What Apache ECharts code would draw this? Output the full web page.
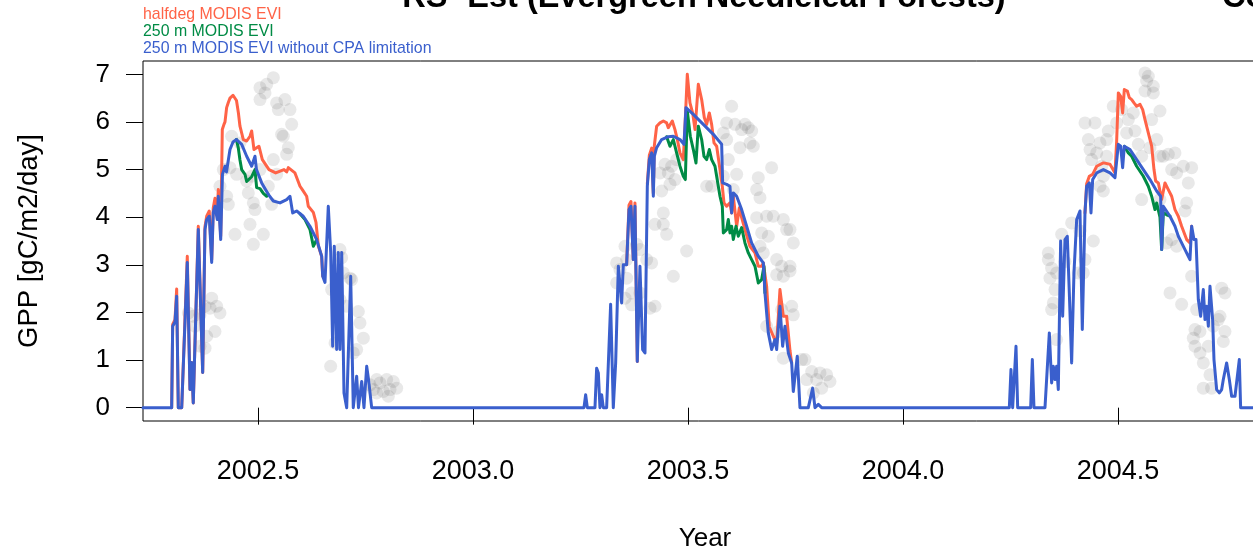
<!DOCTYPE html>
<html>
<head>
<meta charset="utf-8">
<script src="https://cdn.jsdelivr.net/npm/echarts@6/dist/echarts.min.js"></script>
<style>
html,body{margin:0;padding:0;background:#fff;}
#chart{width:1253px;height:553px;}
</style>
</head>
<body>
<div id="chart"></div>
<script>
// Tick positions
const yearTicks = [2002.5, 2003.0, 2003.5, 2004.0, 2004.5];
const gppTicks = [0, 1, 2, 3, 4, 5, 6, 7];

// Flux-tower GPP observations [decimal year, gC/m2/day]
const obs2002 = [[2002.5357,6.93],[2002.5202,6.79],[2002.5047,6.72],[2002.5163,6.61],[2002.5047,6.47],[2002.5434,6.40],[2002.5628,6.47],[2002.5473,6.26],[2002.5744,6.26],[2002.5783,5.95],[2002.5550,5.74],[2002.5589,5.70],[2002.5705,5.46],[2002.5667,5.32],[2002.5357,5.21],[2002.5434,4.90],[2002.5240,4.65],[2002.5047,5.00],[2002.4853,4.86],[2002.4504,4.90],[2002.4349,5.04],[2002.4194,5.00],[2002.4388,5.70],[2002.4582,5.56],[2002.4737,4.76],[2002.4892,4.30],[2002.4775,4.51],[2002.4930,4.16],[2002.5318,4.27],[2002.4814,3.85],[2002.4465,3.64],[2002.4892,3.43],[2002.5124,3.64],[2002.4271,4.44],[2002.4310,4.27],[2002.4116,4.65],[2002.3923,2.30],[2002.4039,2.13],[2002.4116,1.99],[2002.3884,2.09],[2002.3768,2.13],[2002.3651,1.95],[2002.3380,1.99],[2002.3496,1.92],[2002.3535,1.71],[2002.4000,1.60],[2002.3806,1.50],[2002.3768,1.25],[2002.3651,1.29],[2002.6907,3.32],[2002.6946,3.15],[2002.6985,2.83],[2002.7140,2.72],[2002.7178,2.69],[2002.6829,2.41],[2002.6907,2.27],[2002.6713,2.48],[2002.7062,2.13],[2002.7334,2.02],[2002.7372,1.78],[2002.7450,1.46],[2002.7295,1.22],[2002.6791,1.36],[2002.6690,0.87],[2002.7217,1.15],[2002.7760,0.59],[2002.7837,0.52],[2002.7992,0.59],[2002.8147,0.55],[2002.7682,0.38],[2002.7915,0.34],[2002.8070,0.38],[2002.8225,0.41],[2002.8031,0.24],[2002.7760,0.31],[2002.7605,0.48]];
const obs2003 = [[2003.6015,6.33],[2003.5899,5.98],[2003.6093,5.95],[2003.6325,5.95],[2003.6403,5.88],[2003.6248,5.84],[2003.6481,5.81],[2003.5822,5.77],[2003.5899,5.63],[2003.6209,5.46],[2003.6519,5.49],[2003.6442,5.56],[2003.6945,5.04],[2003.5938,5.21],[2003.6132,4.90],[2003.6635,4.83],[2003.6597,4.58],[2003.6674,4.41],[2003.6054,4.58],[2003.5822,4.86],[2003.5550,4.65],[2003.5434,4.65],[2003.4465,5.11],[2003.4620,5.07],[2003.4736,5.21],[2003.4542,4.93],[2003.4697,4.79],[2003.4581,4.69],[2003.4349,4.93],[2003.4387,4.55],[2003.4426,4.09],[2003.4232,3.85],[2003.4426,3.85],[2003.4504,3.64],[2003.4969,3.29],[2003.4659,2.76],[2003.3535,3.39],[2003.3806,3.43],[2003.3573,3.11],[2003.3341,3.04],[2003.3418,2.90],[2003.3341,2.62],[2003.3573,2.72],[2003.3690,2.41],[2003.3535,2.30],[2003.3690,2.16],[2003.3883,2.41],[2003.4155,3.04],[2003.4116,2.09],[2003.4232,2.13],[2003.3883,3.32],[2003.4039,3.11],[2003.6597,3.99],[2003.6829,4.02],[2003.6984,4.02],[2003.6713,3.67],[2003.6868,3.60],[2003.7217,3.95],[2003.7372,3.74],[2003.7294,3.74],[2003.7449,3.46],[2003.6674,3.39],[2003.6752,3.25],[2003.7062,3.11],[2003.7178,2.97],[2003.7372,2.97],[2003.7062,2.79],[2003.7217,2.76],[2003.7372,2.87],[2003.7411,2.13],[2003.7449,1.95],[2003.7178,2.06],[2003.6829,1.71],[2003.7101,1.60],[2003.7721,1.01],[2003.7643,1.01],[2003.7876,0.76],[2003.7760,0.59],[2003.7992,0.59],[2003.8070,0.73],[2003.8225,0.69],[2003.8302,0.55],[2003.8108,0.41],[2003.7915,0.31],[2003.7217,1.04]];
const obs2004 = [[2004.5628,7.03],[2004.5705,6.96],[2004.5666,6.86],[2004.5821,6.75],[2004.5821,6.61],[2004.5628,6.65],[2004.4891,6.33],[2004.5085,6.26],[2004.5240,6.05],[2004.4969,5.98],[2004.5356,6.19],[2004.5395,5.81],[2004.5473,5.53],[2004.5201,5.77],[2004.4775,5.81],[2004.4736,5.63],[2004.4581,5.56],[2004.4232,5.98],[2004.4465,5.98],[2004.4310,5.63],[2004.4349,5.42],[2004.4504,5.35],[2004.4387,5.21],[2004.4736,5.28],[2004.4620,5.07],[2004.4659,4.86],[2004.4581,4.65],[2004.4659,4.55],[2004.5550,5.28],[2004.5744,5.46],[2004.5899,5.63],[2004.5976,5.28],[2004.6054,5.28],[2004.6170,5.32],[2004.6325,5.35],[2004.6248,5.00],[2004.6519,5.07],[2004.6364,4.93],[2004.6713,5.04],[2004.6635,4.72],[2004.6597,4.30],[2004.6558,4.13],[2004.5783,6.05],[2004.5976,6.23],[2004.5550,4.37],[2004.5976,4.37],[2004.6248,3.53],[2004.6364,3.39],[2004.6132,3.46],[2004.4426,3.50],[2004.4116,3.71],[2004.3922,3.88],[2004.3690,3.64],[2004.3380,3.25],[2004.3380,3.11],[2004.3457,2.93],[2004.3418,2.72],[2004.3573,2.83],[2004.3767,3.07],[2004.3535,2.48],[2004.3496,2.20],[2004.3457,2.06],[2004.3573,1.43],[2004.4232,3.11],[2004.4194,2.83],[2004.4077,2.83],[2004.6209,2.41],[2004.6480,2.17],[2004.6713,2.76],[2004.6829,2.06],[2004.6790,1.64],[2004.6752,1.46],[2004.6907,1.60],[2004.6790,1.29],[2004.6907,1.15],[2004.7101,1.29],[2004.6984,0.94],[2004.7139,0.69],[2004.7178,0.41],[2004.6984,0.41],[2004.7411,2.51],[2004.7488,2.41],[2004.7372,1.92],[2004.7333,1.85],[2004.7488,1.60],[2004.7217,1.71],[2004.7449,1.39]];

// 250 m MODIS EVI without CPA limitation
const noCpa2002 = [[2002.2326,0],[2002.2993,0],[2002.3016,1.71],[2002.3070,1.80],[2002.3109,2.34],[2002.3147,0],[2002.3226,0],[2002.3356,3.05],[2002.3419,0.38],[2002.3458,0.95],[2002.3495,0.10],[2002.3612,3.74],[2002.3714,0.74],[2002.3767,3.74],[2002.3807,3.95],[2002.3867,4.02],[2002.3923,3.05],[2002.3960,4.10],[2002.4000,4.23],[2002.4053,3.95],[2002.4077,4.44],[2002.4133,3.53],[2002.4174,4.90],[2002.4233,5.07],[2002.4267,4.95],[2002.4349,5.42],[2002.4419,5.58],[2002.4500,5.63],[2002.4621,5.53],[2002.4737,5.28],[2002.4853,5.07],[2002.4930,5.28],[2002.4965,5.00],[2002.5086,4.72],[2002.5240,4.48],[2002.5356,4.34],[2002.5512,4.30],[2002.5667,4.37],[2002.5744,4.44],[2002.5807,4.09],[2002.5900,4.13],[2002.6053,4.02],[2002.6209,3.81],[2002.6365,3.53],[2002.6481,3.18],[2002.6505,2.76],[2002.6558,2.63],[2002.6635,4.23],[2002.6691,3.26],[2002.6737,1.29],[2002.6774,3.39],[2002.6830,1.22],[2002.6867,3.26],[2002.6907,1.22],[2002.6947,3.26],[2002.7000,0.31],[2002.7063,0],[2002.7156,2.76],[2002.7216,0],[2002.7295,0.66],[2002.7337,0],[2002.7412,0.55],[2002.7465,0],[2002.7528,0.87],[2002.7570,0.60],[2002.7644,0]];
const noCpa2003 = [[2003.2581,0],[2003.2620,0.27],[2003.2659,0],[2003.2837,0],[2003.2876,0.83],[2003.2915,0.73],[2003.2953,0],[2003.2992,0.27],[2003.3031,0],[2003.3108,0],[2003.3201,2.17],[2003.3263,0],[2003.3318,0.94],[2003.3380,2.97],[2003.3418,2.97],[2003.3457,2.20],[2003.3496,3.00],[2003.3573,3.00],[2003.3628,4.16],[2003.3674,4.23],[2003.3728,3.11],[2003.3767,4.23],[2003.3821,0.97],[2003.3883,2.97],[2003.3945,1.22],[2003.4000,1.15],[2003.4054,4.65],[2003.4101,5.21],[2003.4155,5.35],[2003.4194,4.44],[2003.4217,5.28],[2003.4271,5.46],[2003.4387,5.63],[2003.4542,5.69],[2003.4659,5.70],[2003.4814,5.63],[2003.4907,5.53],[2003.4953,6.30],[2003.5124,6.16],[2003.5356,5.95],[2003.5589,5.74],[2003.5783,5.53],[2003.5806,4.72],[2003.5899,4.69],[2003.5976,4.65],[2003.6015,4.09],[2003.6054,4.51],[2003.6132,4.44],[2003.6248,4.16],[2003.6364,3.81],[2003.6480,3.46],[2003.6635,3.18],[2003.6752,3.04],[2003.6790,2.41],[2003.6868,1.57],[2003.6945,1.22],[2003.7023,1.43],[2003.7062,1.22],[2003.7139,2.13],[2003.7201,1.29],[2003.7256,1.71],[2003.7333,1.15],[2003.7411,0.94],[2003.7449,0.34],[2003.7542,1.08],[2003.7604,0],[2003.7798,0],[2003.7899,0.41],[2003.7953,0],[2003.8031,0.07],[2003.8108,0]];
const noCpa2004 = [[2004.2473,0],[2004.2511,0.80],[2004.2550,0],[2004.2589,0],[2004.2628,1.29],[2004.2667,0],[2004.2969,0],[2004.3008,1.01],[2004.3046,0],[2004.3302,0],[2004.3403,1.57],[2004.3457,0.52],[2004.3496,0.87],[2004.3535,0.59],[2004.3573,0.87],[2004.3612,0.38],[2004.3666,3.50],[2004.3713,1.92],[2004.3767,3.53],[2004.3821,3.60],[2004.3868,2.41],[2004.3922,0.94],[2004.3976,2.83],[2004.4039,3.95],[2004.4116,4.13],[2004.4170,1.64],[2004.4232,4.09],[2004.4271,4.65],[2004.4333,4.72],[2004.4372,4.09],[2004.4411,4.79],[2004.4504,4.93],[2004.4659,5.00],[2004.4814,4.93],[2004.4930,4.83],[2004.5008,5.53],[2004.5062,5.49],[2004.5108,5.04],[2004.5147,5.49],[2004.5279,5.42],[2004.5434,5.21],[2004.5589,5.00],[2004.5744,4.79],[2004.5899,4.55],[2004.5992,4.44],[2004.6015,3.32],[2004.6054,4.23],[2004.6209,4.02],[2004.6325,3.81],[2004.6403,3.60],[2004.6480,3.46],[2004.6558,3.32],[2004.6635,3.18],[2004.6674,3.11],[2004.6713,3.81],[2004.6767,3.53],[2004.6814,3.53],[2004.6868,2.27],[2004.6922,1.92],[2004.6984,2.48],[2004.7023,1.85],[2004.7062,2.13],[2004.7101,1.71],[2004.7139,2.55],[2004.7201,1.85],[2004.7232,1.01],[2004.7294,0.38],[2004.7356,0.31],[2004.7411,0.38],[2004.7449,0.59],[2004.7527,0.94],[2004.7589,0.59],[2004.7643,0.24],[2004.7721,0.24],[2004.7760,0.24],[2004.7821,1.01],[2004.7852,0],[2004.8147,0],[2004.8600,0]];

// halfdeg MODIS EVI, where it leaves the 250 m curves
const halfdeg2002 = [[2002.2993,0],[2002.3016,1.75],[2002.3070,1.85],[2002.3109,2.49],[2002.3147,0],[2002.3226,0],[2002.3356,3.18],[2002.3419,0.38],[2002.3458,0.95],[2002.3495,0.10],[2002.3612,3.81],[2002.3714,0.74],[2002.3767,3.80],[2002.3807,4.02],[2002.3867,4.13],[2002.3923,3.10],[2002.3960,4.20],[2002.4000,4.40],[2002.4053,4.05],[2002.4077,4.58],[2002.4133,3.60],[2002.4170,5.84],[2002.4209,5.95],[2002.4233,6.00],[2002.4271,6.30],[2002.4310,6.41],[2002.4349,6.50],[2002.4419,6.56],[2002.4465,6.55],[2002.4500,6.45],[2002.4543,6.20],[2002.4581,5.91],[2002.4659,5.63],[2002.4737,5.60],[2002.4814,5.70],[2002.4853,5.81],[2002.4907,5.42],[2002.4953,5.38],[2002.5022,5.49],[2002.5101,5.21],[2002.5256,5.00],[2002.5412,4.93],[2002.5605,5.00],[2002.5667,4.95],[2002.5705,5.04],[2002.5860,4.93],[2002.5977,4.65],[2002.6031,4.58],[2002.6132,4.44],[2002.6170,4.23],[2002.6209,4.20],[2002.6287,4.10],[2002.6349,3.89],[2002.6403,3.40],[2002.6481,3.18],[2002.6505,2.76]];
const halfdeg2003a = [[2003.3573,3.00],[2003.3628,4.25],[2003.3674,4.33],[2003.3728,3.11],[2003.3767,4.30],[2003.3821,0.97]];
const halfdeg2003b = [[2003.4054,4.70],[2003.4101,5.30],[2003.4155,5.45],[2003.4194,4.50],[2003.4217,5.50],[2003.4271,5.91],[2003.4349,5.98],[2003.4426,6.02],[2003.4504,5.98],[2003.4542,5.88],[2003.4635,6.02],[2003.4697,5.84],[2003.4752,5.63],[2003.4814,5.35],[2003.4891,5.21],[2003.4930,5.91],[2003.4984,7.00],[2003.5046,6.40],[2003.5108,6.19],[2003.5163,5.84],[2003.5240,6.79],[2003.5318,6.47],[2003.5380,6.09],[2003.5434,5.95],[2003.5496,6.19],[2003.5550,5.95],[2003.5605,5.56],[2003.5667,5.49],[2003.5744,5.00],[2003.5798,4.65],[2003.5837,4.30],[2003.5899,4.23],[2003.5976,4.30],[2003.6015,4.09],[2003.6054,4.44],[2003.6132,3.81],[2003.6194,4.20],[2003.6248,3.99],[2003.6325,3.74],[2003.6441,3.39],[2003.6558,3.25],[2003.6635,2.97],[2003.6713,2.97],[2003.6752,3.04],[2003.6829,2.55],[2003.6890,1.70],[2003.6984,1.50],[2003.7062,1.35],[2003.7139,2.48],[2003.7217,1.92],[2003.7294,1.92],[2003.7372,1.20],[2003.7411,0.94]];
const halfdeg2004 = [[2004.4232,4.09],[2004.4271,4.70],[2004.4333,4.86],[2004.4411,4.90],[2004.4504,5.07],[2004.4659,5.14],[2004.4814,5.11],[2004.4930,4.93],[2004.4969,5.60],[2004.5008,6.61],[2004.5062,6.54],[2004.5108,6.19],[2004.5147,6.68],[2004.5217,6.65],[2004.5263,6.51],[2004.5318,6.47],[2004.5372,6.40],[2004.5434,6.33],[2004.5512,6.37],[2004.5574,6.26],[2004.5628,6.05],[2004.5705,5.77],[2004.5783,5.49],[2004.5837,5.00],[2004.5876,4.76],[2004.5938,4.72],[2004.6015,4.37],[2004.6093,4.72],[2004.6170,4.58],[2004.6248,4.44],[2004.6325,4.16],[2004.6403,4.02],[2004.6480,3.81],[2004.6597,3.53],[2004.6674,3.46],[2004.6713,3.81]];

// 250 m MODIS EVI (with CPA limitation), where it drops below the unlimited curve
const evi250m2002a = [[2002.4500,5.63],[2002.4543,5.45],[2002.4581,5.20],[2002.4620,5.00],[2002.4698,4.90],[2002.4737,4.75],[2002.4776,4.72],[2002.4853,4.85],[2002.4930,5.00],[2002.4969,4.62],[2002.5047,4.60],[2002.5124,4.50],[2002.5202,4.44],[2002.5240,4.48]];
const evi250m2002b = [[2002.5977,4.07],[2002.6016,4.09],[2002.6093,3.95],[2002.6209,3.74],[2002.6287,3.39],[2002.6326,3.35],[2002.6365,3.53]];
const evi250m2003 = [[2003.4504,5.69],[2003.4581,5.49],[2003.4659,5.63],[2003.4736,5.35],[2003.4814,5.07],[2003.4891,4.86],[2003.4938,4.79],[2003.4984,6.23],[2003.5054,5.70],[2003.5124,5.42],[2003.5186,5.14],[2003.5240,5.91],[2003.5318,5.63],[2003.5372,5.28],[2003.5434,5.21],[2003.5496,5.42],[2003.5550,5.21],[2003.5628,5.07],[2003.5705,4.65],[2003.5744,4.44],[2003.5798,4.23],[2003.5822,3.67],[2003.5899,3.74],[2003.5938,3.95],[2003.5976,3.67],[2003.6015,3.81],[2003.6054,3.53],[2003.6116,3.81],[2003.6170,3.60],[2003.6248,3.78],[2003.6325,3.46],[2003.6403,3.25],[2003.6480,3.11],[2003.6558,2.97],[2003.6635,2.62],[2003.6713,2.69],[2003.6767,2.97],[2003.6790,2.41]];
const evi250m2004 = [[2004.5147,5.49],[2004.5240,5.35],[2004.5318,5.28],[2004.5434,5.07],[2004.5589,4.86],[2004.5705,4.65],[2004.5783,4.44],[2004.5860,4.16],[2004.5899,4.30],[2004.5976,4.00],[2004.6015,3.32],[2004.6054,4.10],[2004.6132,4.05],[2004.6209,4.02]];

const FONT = '"Liberation Sans", Arial, Helvetica, sans-serif';
const RED = '#FF6347', GREEN = '#008B45', BLUE = '#3A5FCD';

function curve(data, color, z) {
  return {
    type: 'line', data: data, symbol: 'none', showSymbol: false, silent: true,
    lineStyle: { color: color, width: 3, join: 'round', cap: 'round' },
    itemStyle: { color: color }, z: z, animation: false
  };
}

const chart = echarts.init(document.getElementById('chart'), null, { renderer: 'canvas' });
chart.setOption({
  animation: false,
  backgroundColor: '#ffffff',
  grid: {
    left: 143, top: 61, width: 1129.8, height: 360,
    containLabel: false, outerBoundsMode: 'none',
    show: true, borderColor: '#000', borderWidth: 1, backgroundColor: 'transparent'
  },
  xAxis: {
    type: 'value', min: 2002.2326, max: 2004.86,
    axisLine: { show: false },
    splitLine: { show: false },
    axisTick: { show: true, customValues: yearTicks, length: 17, lineStyle: { color: '#000', width: 1 } },
    axisLabel: { show: true, customValues: yearTicks, margin: 37, color: '#000', fontSize: 27, fontFamily: FONT,
      formatter: function (v) { return v.toFixed(1); } }
  },
  yAxis: {
    type: 'value', min: -0.28, max: 7.28,
    axisLine: { show: false },
    splitLine: { show: false },
    axisTick: { show: true, customValues: gppTicks, length: 17, lineStyle: { color: '#000', width: 1 } },
    axisLabel: { show: true, customValues: gppTicks, margin: 33, color: '#000', fontSize: 26, fontFamily: FONT,
      formatter: function (v) { return String(Math.round(v)); } }
  },
  series: [
    { type: 'scatter', data: [].concat(obs2002, obs2003, obs2004), symbol: 'circle', symbolSize: 13,
      itemStyle: { color: 'rgba(80,80,80,0.17)' }, silent: true, z: 1, animation: false },
    curve(halfdeg2002, RED, 2),
    curve(halfdeg2003a, RED, 2),
    curve(halfdeg2003b, RED, 2),
    curve(halfdeg2004, RED, 2),
    curve(evi250m2002a, GREEN, 3),
    curve(evi250m2002b, GREEN, 3),
    curve(evi250m2003, GREEN, 3),
    curve(evi250m2004, GREEN, 3),
    curve([].concat(noCpa2002, noCpa2003, noCpa2004), BLUE, 4)
  ],
  graphic: [
    { type: 'text', x: 704, y: -2, style: { text: 'RS- Est (Evergreen Needleleaf Forests)', font: 'bold 32.5px ' + FONT, fill: '#000', align: 'center', verticalAlign: 'middle' } },
    { type: 'text', x: 1222, y: -2, style: { text: 'Co', font: 'bold 32.5px ' + FONT, fill: '#000', align: 'left', verticalAlign: 'middle' } },
    { type: 'text', x: 143, y: 15, style: { text: 'halfdeg MODIS EVI', font: '15.9px ' + FONT, fill: RED, align: 'left', verticalAlign: 'middle' } },
    { type: 'text', x: 143, y: 31.5, style: { text: '250 m MODIS EVI', font: '15.9px ' + FONT, fill: GREEN, align: 'left', verticalAlign: 'middle' } },
    { type: 'text', x: 143, y: 48.5, style: { text: '250 m MODIS EVI without CPA limitation', font: '15.9px ' + FONT, fill: BLUE, align: 'left', verticalAlign: 'middle' } },
    { type: 'text', x: 705, y: 539, style: { text: 'Year', font: '26px ' + FONT, fill: '#000', align: 'center', verticalAlign: 'middle' } },
    { type: 'text', x: 29, y: 241, rotation: Math.PI / 2, style: { text: 'GPP [gC/m2/day]', font: '27.5px ' + FONT, fill: '#000', align: 'center', verticalAlign: 'middle' } }
  ]
});
</script>
</body>
</html>
